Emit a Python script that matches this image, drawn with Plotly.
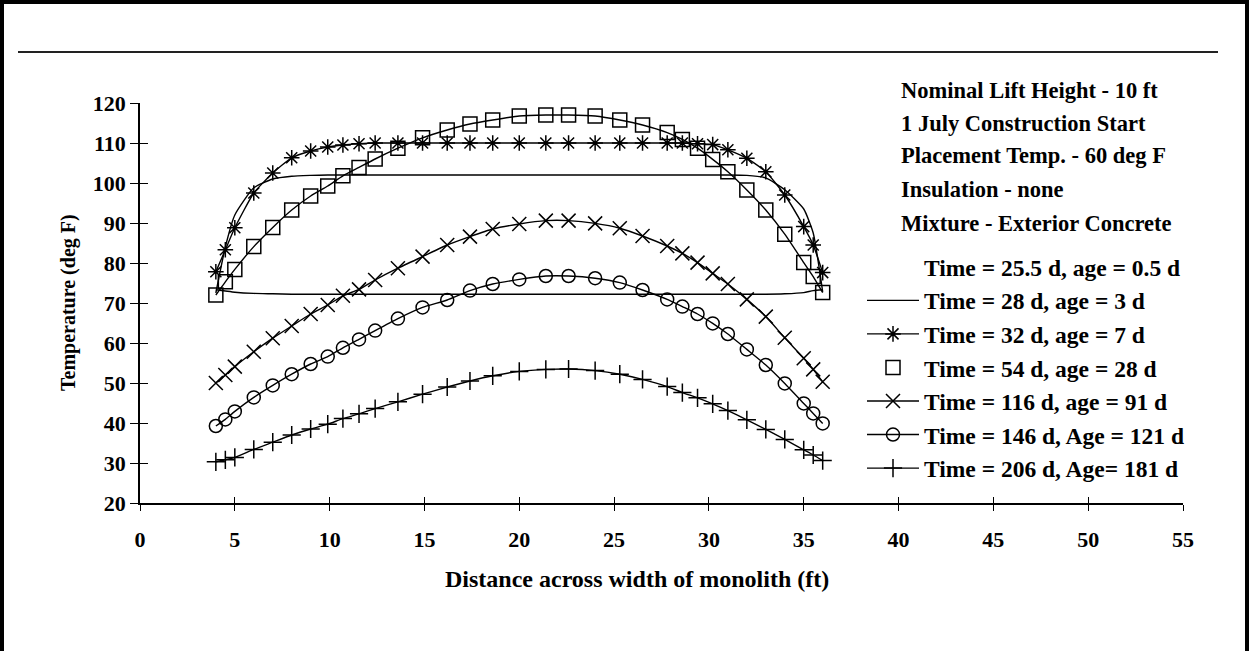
import plotly.graph_objects as go

# Distance across the monolith (ft) at each computed node
dist_ft = [4.0, 4.5, 5.0, 6.0, 7.0, 8.0, 9.0, 9.9, 10.7, 11.55, 12.4, 13.6, 14.9,
           16.2, 17.4, 18.6, 20.0, 21.4, 22.6, 24.0, 25.3, 26.5, 27.8, 28.6, 29.4,
           30.2, 31.0, 32.0, 33.0, 34.0, 35.0, 35.5, 36.0]

# Temperature profiles (deg F)
temp_age_0_5 = [73.3, 73.0, 72.7, 72.4, 72.3, 72.2, 72.2, 72.2, 72.2, 72.2, 72.2,
                72.2, 72.2, 72.2, 72.2, 72.2, 72.2, 72.2, 72.2, 72.2, 72.2, 72.2,
                72.2, 72.2, 72.2, 72.2, 72.2, 72.2, 72.2, 72.3, 72.6, 73.1, 73.3]
temp_age_3 = [72.5, 84.0, 92.0, 98.8, 101.0, 101.7, 101.9, 102.0, 102.0, 102.0,
              102.0, 102.0, 102.0, 102.0, 102.0, 102.0, 102.0, 102.0, 102.0, 102.0,
              102.0, 102.0, 102.0, 102.0, 102.0, 102.0, 102.0, 101.9, 101.3, 98.3,
              93.5, 87.5, 72.8]
temp_age_7 = [77.8, 83.3, 88.8, 97.5, 102.5, 106.3, 108.0, 109.0, 109.5, 109.8,
              110.0, 110.0, 110.0, 110.0, 110.0, 110.0, 110.0, 110.0, 110.0, 110.0,
              110.0, 110.0, 110.0, 110.0, 109.8, 109.6, 108.3, 106.2, 102.8, 97.0,
              89.1, 84.5, 77.6]
temp_age_28 = [72.0, 75.3, 78.4, 84.1, 88.9, 93.25, 96.75, 99.25, 101.8, 103.9,
               106.0, 108.7, 111.3, 113.25, 114.75, 115.75, 116.75, 117.0, 117.0,
               116.75, 115.75, 114.5, 112.6, 110.9, 108.7, 105.9, 102.8, 98.25,
               93.25, 87.2, 80.1, 76.6, 72.6]
temp_age_91 = [50.0, 52.0, 54.1, 57.8, 61.2, 64.25, 67.25, 69.5, 71.8, 73.4, 75.75,
               78.7, 81.6, 84.5, 86.6, 88.5, 89.75, 90.6, 90.6, 89.9, 88.7, 86.75,
               84.25, 82.4, 80.1, 77.4, 74.75, 70.9, 66.6, 61.3, 56.2, 53.4, 50.3]
temp_age_121 = [39.25, 40.9, 42.9, 46.4, 49.4, 52.2, 54.75, 56.6, 58.8, 60.9, 63.1,
                66.1, 68.9, 70.75, 73.1, 74.75, 75.9, 76.75, 76.75, 76.2, 75.1, 73.25,
                70.9, 69.1, 67.25, 64.9, 62.25, 58.4, 54.5, 49.9, 44.9, 42.4, 39.9]
temp_age_181 = [30.3, 30.8, 31.4, 33.4, 35.2, 37.0, 38.5, 39.7, 41.1, 42.3, 43.6,
                45.3, 47.2, 49.0, 50.5, 51.8, 52.9, 53.4, 53.5, 53.1, 52.2, 50.9,
                49.1, 47.6, 46.3, 44.8, 43.1, 40.8, 38.4, 35.9, 33.3, 32.0, 30.6]

series_names = [
    "Time = 25.5 d, age = 0.5 d",
    "Time = 28 d, age = 3 d",
    "Time = 32 d, age = 7 d",
    "Time = 54 d, age = 28 d",
    "Time = 116 d, age = 91 d",
    "Time = 146 d, Age = 121 d",
    "Time = 206 d, Age= 181 d",
]

notes = [
    "Nominal Lift Height - 10 ft",
    "1 July Construction Start",
    "Placement Temp. - 60 deg F",
    "Insulation - none",
    "Mixture - Exterior Concrete",
]

x_ticks = list(range(0, 60, 5))
y_ticks = list(range(20, 130, 10))

FONT = "Liberation Serif"
W, H = 1249, 651
# plot area in pixels
PL, PR, PT, PB = 140, 1183, 103, 503


def px_x(px):
    return (px - PL) / (PR - PL)


def px_y(py):
    return (PB - py) / (PB - PT)


LINE = dict(color="black", width=1.4, shape="spline", smoothing=0.5)
MLINE = dict(color="black", width=1.5)

fig = go.Figure()

# legend entry without a symbol
fig.add_trace(go.Scatter(x=[None], y=[None], mode="lines", name=series_names[0],
                         line=dict(color="rgba(0,0,0,0)", width=0),
                         legendgroup="g0"))
# age 0.5 d profile (drawn, legend handled above)
fig.add_trace(go.Scatter(x=dist_ft, y=temp_age_0_5, mode="lines", line=LINE,
                         showlegend=False, hoverinfo="skip"))
fig.add_trace(go.Scatter(x=dist_ft, y=temp_age_3, mode="lines", line=LINE,
                         name=series_names[1], legendgroup="g1"))
fig.add_trace(go.Scatter(x=dist_ft, y=temp_age_7, mode="lines+markers", line=LINE,
                         marker=dict(symbol="asterisk-open", size=13, line=MLINE),
                         name=series_names[2], legendgroup="g2"))
fig.add_trace(go.Scatter(x=dist_ft, y=temp_age_28, mode="lines", line=LINE,
                         showlegend=False, hoverinfo="skip"))
fig.add_trace(go.Scatter(x=dist_ft, y=temp_age_28, mode="markers",
                         marker=dict(symbol="square-open", size=14, color="black",
                                     line=MLINE),
                         name=series_names[3], legendgroup="g3"))
fig.add_trace(go.Scatter(x=dist_ft, y=temp_age_91, mode="lines+markers", line=LINE,
                         marker=dict(symbol="x-thin-open", size=14, line=MLINE),
                         name=series_names[4], legendgroup="g4"))
fig.add_trace(go.Scatter(x=dist_ft, y=temp_age_121, mode="lines+markers", line=LINE,
                         marker=dict(symbol="circle-open", size=13, color="black",
                                     line=MLINE),
                         name=series_names[5], legendgroup="g5"))
fig.add_trace(go.Scatter(x=dist_ft, y=temp_age_181, mode="lines+markers", line=LINE,
                         marker=dict(symbol="cross-thin-open", size=13, line=MLINE),
                         name=series_names[6], legendgroup="g6"))
# carrier for the inner tick axes
fig.add_trace(go.Scatter(x=[None], y=[None], xaxis="x2", yaxis="y2", mode="lines",
                         showlegend=False, hoverinfo="skip"))

tick_font = dict(family=FONT, size=22, color="black", weight="bold")
tick_style = dict(showgrid=False, zeroline=False, tickcolor="black", tickwidth=1.4)

fig.update_layout(
    width=W, height=H,
    margin=dict(l=PL, r=W - PR, t=PT, b=H - PB),
    paper_bgcolor="white", plot_bgcolor="white",
    font=dict(family=FONT, color="black"),
    xaxis=dict(range=[0, 55], tickvals=x_ticks, ticks="outside", ticklen=6,
               showline=True, linecolor="black", linewidth=1.6,
               tickfont=tick_font, ticklabelstandoff=10, **tick_style),
    yaxis=dict(range=[20, 120], tickvals=y_ticks, ticks="outside", ticklen=8,
               showline=True, linecolor="black", linewidth=1.6,
               tickfont=tick_font, **tick_style),
    xaxis2=dict(range=[0, 55], tickvals=x_ticks, ticks="inside", ticklen=6,
                overlaying="x", anchor="y", side="bottom", showticklabels=False,
                showline=False, **tick_style),
    yaxis2=dict(range=[20, 120], tickvals=y_ticks, ticks="inside", ticklen=8,
                overlaying="y", anchor="x", side="left", showticklabels=False,
                showline=False, **tick_style),
    showlegend=True,
    legend=dict(x=px_x(862), y=px_y(245), xanchor="left", yanchor="top",
                bgcolor="rgba(0,0,0,0)", borderwidth=0, tracegroupgap=0,
                font=dict(family=FONT, size=23.5, color="black", weight="bold"),
                itemwidth=52, traceorder="grouped"),
)

annotations = []
note_y = [91, 123, 155, 189, 223]
for txt, yy in zip(notes, note_y):
    annotations.append(dict(x=px_x(899), y=px_y(yy), xref="paper", yref="paper",
                            text=txt, showarrow=False, xanchor="left",
                            yanchor="middle",
                            font=dict(family=FONT, size=22.5, weight="bold")))
annotations.append(dict(x=px_x(637), y=px_y(579), xref="paper", yref="paper",
                        text="Distance across width of monolith (ft)",
                        showarrow=False, xanchor="center", yanchor="middle",
                        font=dict(family=FONT, size=24, weight="bold")))
annotations.append(dict(x=px_x(68), y=px_y(303), xref="paper", yref="paper",
                        text="Temperature (deg F)", textangle=-90,
                        showarrow=False, xanchor="center", yanchor="middle",
                        font=dict(family=FONT, size=20, weight="bold")))
fig.update_layout(annotations=annotations)

# page frame and rule
shapes = [
    dict(type="rect", xref="paper", yref="paper", x0=px_x(0), x1=px_x(4),
         y0=px_y(H), y1=px_y(0), fillcolor="black", line=dict(width=0)),
    dict(type="rect", xref="paper", yref="paper", x0=px_x(0), x1=px_x(W),
         y0=px_y(4), y1=px_y(0), fillcolor="black", line=dict(width=0)),
    dict(type="rect", xref="paper", yref="paper", x0=px_x(W - 4), x1=px_x(W),
         y0=px_y(H), y1=px_y(0), fillcolor="black", line=dict(width=0)),
    dict(type="line", xref="paper", yref="paper", x0=px_x(18), x1=px_x(1218),
         y0=px_y(52), y1=px_y(52), line=dict(color="#222222", width=2)),
]
fig.update_layout(shapes=shapes)

fig.write_html("out.html")
